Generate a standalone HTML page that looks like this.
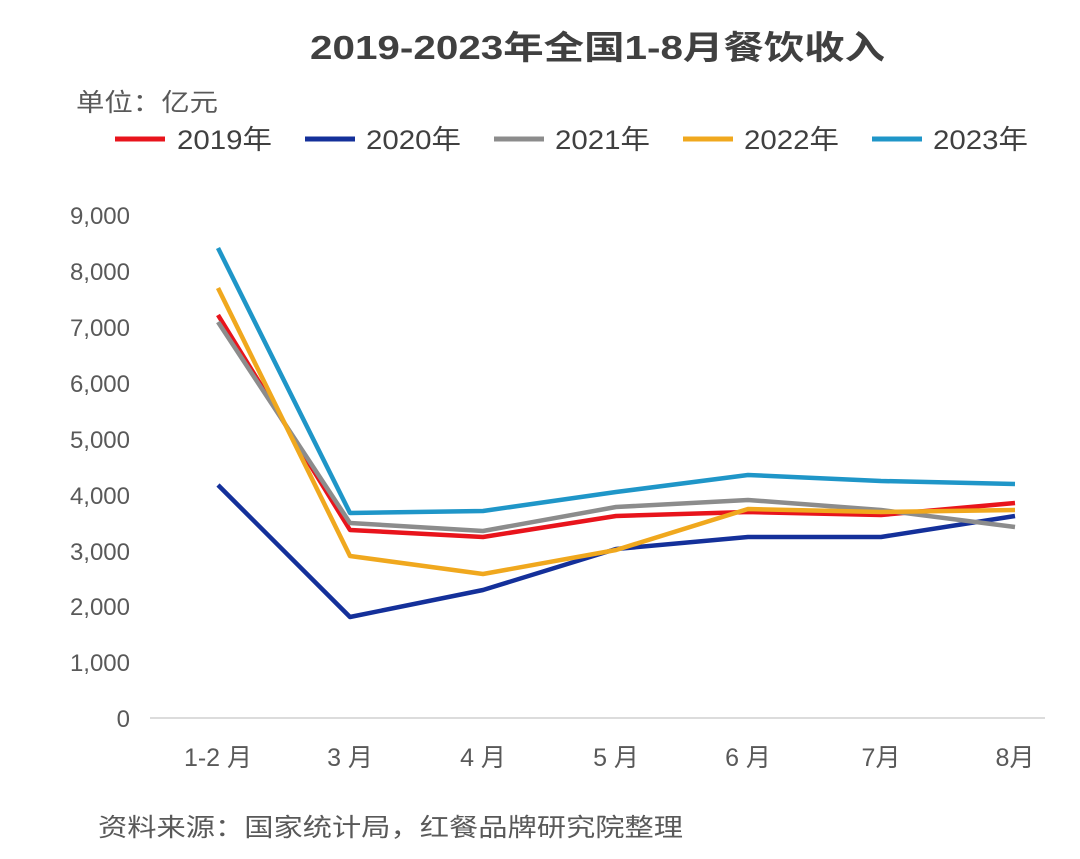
<!DOCTYPE html>
<html><head><meta charset="utf-8"><style>
body{margin:0;background:#fff;}
svg text{font-family:"Liberation Sans","Noto Sans CJK SC",sans-serif;}
</style></head><body>
<svg width="1080" height="854" xmlns="http://www.w3.org/2000/svg">
<rect width="1080" height="854" fill="#fff"/>
<text x="310" y="59" font-size="33" font-weight="bold" fill="#404040" textLength="575" lengthAdjust="spacingAndGlyphs">2019-2023年全国1-8月餐饮收入</text>
<text x="76" y="111" font-size="25" fill="#595959" textLength="142" lengthAdjust="spacingAndGlyphs">单位：亿元</text>
<g font-size="27" fill="#404040">
<line x1="115" y1="139" x2="165" y2="139" stroke="#e8141c" stroke-width="5"/><text x="177" y="149" textLength="95" lengthAdjust="spacingAndGlyphs">2019年</text>
<line x1="305" y1="139" x2="355" y2="139" stroke="#14309a" stroke-width="5"/><text x="366" y="149" textLength="95" lengthAdjust="spacingAndGlyphs">2020年</text>
<line x1="494" y1="139" x2="544" y2="139" stroke="#8c8c8c" stroke-width="5"/><text x="555" y="149" textLength="95" lengthAdjust="spacingAndGlyphs">2021年</text>
<line x1="683" y1="139" x2="733" y2="139" stroke="#f0a81e" stroke-width="5"/><text x="744" y="149" textLength="95" lengthAdjust="spacingAndGlyphs">2022年</text>
<line x1="872" y1="139" x2="922" y2="139" stroke="#1f96c8" stroke-width="5"/><text x="933" y="149" textLength="95" lengthAdjust="spacingAndGlyphs">2023年</text>
</g>
<g font-size="24" fill="#595959" text-anchor="end">
<text x="130" y="224">9,000</text><text x="130" y="280">8,000</text><text x="130" y="336">7,000</text>
<text x="130" y="392">6,000</text><text x="130" y="448">5,000</text><text x="130" y="504">4,000</text>
<text x="130" y="560">3,000</text><text x="130" y="615">2,000</text><text x="130" y="671">1,000</text>
<text x="130" y="727">0</text>
</g>
<line x1="150" y1="718" x2="1045" y2="718" stroke="#d0d0d0" stroke-width="1.5"/>
<g font-size="25" fill="#595959" text-anchor="middle">
<text x="218" y="766">1-2 月</text><text x="350" y="766">3 月</text><text x="483" y="766">4 月</text>
<text x="616" y="766">5 月</text><text x="748" y="766">6 月</text><text x="881" y="766">7月</text><text x="1015" y="766">8月</text>
</g>
<g fill="none" stroke-width="4.5" stroke-linejoin="round">
<polyline stroke="#14309a" points="218,485 350,617 483,590 616,549 748,537 881,537 1015,516"/>
<polyline stroke="#e8141c" points="218,315 350,530 483,537 616,516 748,512 881,515 1015,503"/>
<polyline stroke="#8c8c8c" points="218,322 350,523 483,531 616,507 748,500 881,510 1015,527"/>
<polyline stroke="#f0a81e" points="218,288 350,556 483,574 616,550 748,509 881,512 1015,510"/>
<polyline stroke="#1f96c8" points="218,248 350,513 483,511 616,492 748,475 881,481 1015,484"/>
</g>
<text x="98" y="836" font-size="25" fill="#595959" textLength="585" lengthAdjust="spacingAndGlyphs">资料来源：国家统计局，红餐品牌研究院整理</text>
</svg>
</body></html>
